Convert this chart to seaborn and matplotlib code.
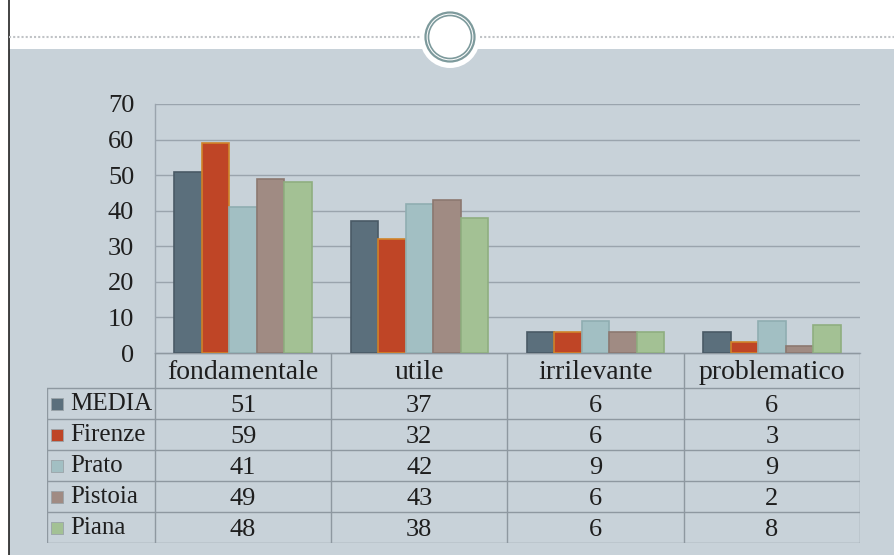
import matplotlib
matplotlib.use("Agg")
import matplotlib.pyplot as plt
import seaborn as sns
import pandas as pd
from matplotlib.patches import Circle, Rectangle

categorie = ["fondamentale", "utile", "irrilevante", "problematico"]
serie = ["MEDIA", "Firenze", "Prato", "Pistoia", "Piana"]
media = [51, 37, 6, 6]
firenze = [59, 32, 6, 3]
prato = [41, 42, 9, 9]
pistoia = [49, 43, 6, 2]
piana = [48, 38, 6, 8]
yticks = [0, 10, 20, 30, 40, 50, 60, 70]

colori = ["#5b6f7c", "#bf4526", "#a2bfc3", "#a08b83", "#a3c194"]
bordi = ["#4a5a66", "#d0842a", "#8fadb1", "#8c7870", "#8fae80"]
sfondo = "#c8d2d9"
griglia = "#9aa4ad"
testo = "#1e1e1e"

valori = [media, firenze, prato, pistoia, piana]
df = pd.DataFrame({
    "categoria": [c for v in valori for c in categorie],
    "serie": [s for s, v in zip(serie, valori) for _ in v],
    "valore": [x for v in valori for x in v],
})

sns.set_style("white")
plt.rcParams["font.family"] = ["Liberation Serif", "DejaVu Serif"]

W, H = 895, 555
fig = plt.figure(figsize=(W / 100, H / 100), dpi=100, facecolor="white")

# background decoration (pixel coordinates)
bg = fig.add_axes([0, 0, 1, 1], zorder=0)
bg.set_xlim(0, W)
bg.set_ylim(H, 0)
bg.axis("off")
bg.add_patch(Rectangle((9, 49), W - 9, H - 49, color=sfondo, lw=0))
bg.plot([9, 9], [0, H], color="#222222", lw=1.2)
bg.plot([9, 420], [37, 37], color="#c0c3c6", lw=1.5, ls=(0, (1, 1)))
bg.plot([480, W], [37, 37], color="#c0c3c6", lw=1.5, ls=(0, (1, 1)))
bg.add_patch(Circle((450, 38), 30, color="white", lw=0))
bg.add_patch(Circle((450, 37), 24.5, fill=False, ec="#7d9a9c", lw=1.6))
bg.add_patch(Circle((450, 37), 21.5, fill=False, ec="#7d9a9c", lw=1.2))

# bar chart
x0, x1, ytop, ybot = 155, 860, 104, 353
ax = fig.add_axes([x0 / W, (H - ybot) / H, (x1 - x0) / W, (ybot - ytop) / H], zorder=2)
ax.patch.set_alpha(0)
sns.barplot(data=df, x="categoria", y="valore", hue="serie", palette=colori,
            saturation=1, width=0.78, gap=0, legend=False, ax=ax, zorder=3)
for cont, ec in zip(ax.containers, bordi):
    for p in cont:
        p.set_edgecolor(ec)
        p.set_linewidth(1.2)
ax.set_xlim(-0.5, 3.5)
ax.set_ylim(0, 70)
ax.set_yticks(yticks)
ax.set_yticklabels([str(t) for t in yticks], fontsize=19, color=testo)
ax.tick_params(axis="y", length=0, pad=15)
ax.set_xticks([])
ax.set_xlabel("")
ax.set_ylabel("")
ax.yaxis.grid(True, color=griglia, lw=1)
ax.set_axisbelow(True)
for s in ["top", "right"]:
    ax.spines[s].set_visible(False)
for s in ["left", "bottom"]:
    ax.spines[s].set_color(griglia)
    ax.spines[s].set_linewidth(1)

# data table
tl, tb = 47, 543
unit = (x1 - x0) / 4
xl = -0.5 - (x0 - tl) / unit
hh = 35 / 31
tab = fig.add_axes([tl / W, (H - tb) / H, (x1 - tl) / W, (tb - ybot) / H], zorder=2)
tab.set_xlim(xl, 3.5)
tab.set_ylim(hh + len(serie), 0)
tab.axis("off")
lc = "#8e98a0"
tab.plot([-0.5, 3.5], [0, 0], color=lc, lw=1)
for i in range(len(serie) + 1):
    tab.plot([xl, 3.5], [hh + i, hh + i], color=lc, lw=1)
for j in range(len(categorie) + 1):
    tab.plot([j - 0.5, j - 0.5], [0, hh + len(serie)], color=lc, lw=1)
tab.plot([xl, xl], [hh, hh + len(serie)], color=lc, lw=1)
for j, c in enumerate(categorie):
    tab.text(j, hh / 2 + 0.05, c, ha="center", va="center", fontsize=20, color=testo)
for i, (s, v, col) in enumerate(zip(serie, valori, colori)):
    yc = hh + i + 0.5
    tab.scatter([xl + 0.058], [yc], marker="s", s=70, color=col, edgecolor="#9aa3a8", lw=0.6)
    tab.text(xl + 0.13, yc + 0.02, s, ha="left", va="center", fontsize=18, color=testo)
    for j, val in enumerate(v):
        tab.text(j, yc + 0.08, str(val), ha="center", va="center", fontsize=19, color=testo)

fig.savefig("out.png", dpi=100, facecolor="white")
